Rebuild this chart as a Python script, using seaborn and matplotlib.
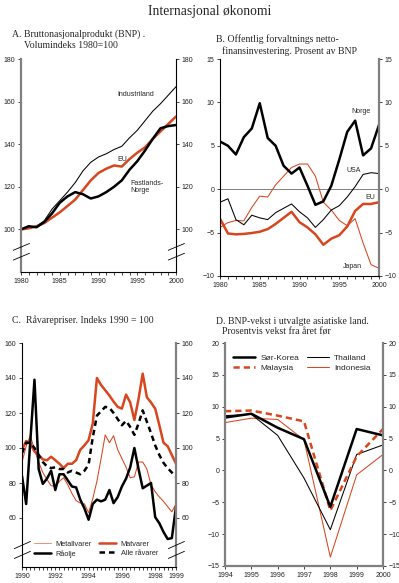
import matplotlib
matplotlib.use("Agg")
import matplotlib.pyplot as plt
import seaborn as sns

# ---------------- data ----------------
years_a = list(range(1980, 2001))
industriland = [100, 101, 101.5, 104, 109.5, 113.5, 117.5, 122, 127.5, 131.5, 134,
                135.5, 137.5, 139, 143, 146.5, 151, 155.5, 159, 163, 167]
eu_a = [100, 100.5, 101.5, 103, 105.5, 108, 111, 114, 118.5, 123, 126.5,
        128.5, 130, 129.5, 133, 136, 138.5, 142.5, 146, 149.5, 153]
fastlandsnorge = [100, 101.5, 101, 103.5, 107.5, 112.5, 115.5, 117.5, 116.5, 114.5, 115.5,
                  117.5, 120, 123, 128, 132, 137, 142.5, 147.5, 148.5, 149]

years_b = list(range(1980, 2001))
norge_b = [5.5, 5.0, 4.0, 6.0, 7.0, 9.9, 5.9, 5.0, 2.7, 1.8, 2.5,
           0.4, -1.8, -1.4, 0.4, 3.4, 6.6, 7.9, 3.9, 4.7, 7.4]
usa_b = [-1.5, -1.1, -3.5, -4.1, -3.0, -3.3, -3.5, -2.7, -2.2, -1.7, -2.6,
         -3.3, -4.4, -3.5, -2.4, -1.9, -0.9, 0.3, 1.7, 1.9, 1.8]
eu_b = [-3.4, -5.1, -5.2, -5.15, -5.05, -4.9, -4.6, -4.0, -3.3, -2.6, -3.8,
        -4.4, -5.2, -6.4, -5.7, -5.3, -4.3, -2.5, -1.7, -1.7, -1.5]
japan_b = [-4.4, -3.85, -3.6, -3.65, -2.1, -0.8, -0.9, 0.5, 1.5, 2.5, 2.9,
           2.9, 1.5, -1.5, -2.4, -3.6, -4.2, -3.4, -6.2, -8.7, -9.1]

# quarterly 1990Q1 .. 1999Q2
quarters_c = [1990 + q / 4 for q in range(38)]
metallvarer = [92, 101, 107, 99, 92, 86, 82, 78.5, 78, 81, 83, 79, 74, 70, 68.5, 68, 63, 71, 81,
               94, 107.5, 103, 107, 99, 94, 89, 83, 83.5, 92, 92, 88, 79, 75, 72, 69.5, 66.5, 63.5, 68]
matvarer = [99, 104, 102.5, 98, 96, 93.5, 93, 95, 93, 91, 88.5, 91, 91, 93, 99, 101.5, 104.5, 114, 140,
            136, 133, 130, 126.5, 123.5, 122.5, 130.5, 126, 116, 128, 142.5, 129, 126, 122.5, 113, 103, 101, 96, 91]
raolje = [84, 68, 104, 139, 88, 79.5, 82.5, 87, 76, 85, 85, 81.5, 78, 77.5, 70.5, 65.5, 59, 68, 70.5,
          69.5, 70.5, 76, 68.5, 72, 78, 82.5, 89, 100, 88, 77, 78.5, 80, 60.5, 57, 52, 48, 48.5, 66.5]
alle_ravarer = [97, 103, 103, 100, 96, 92, 89.5, 88.5, 89, 88, 88, 86, 87, 86, 85, 87, 90.5, 106, 118.5,
                121, 123.5, 123, 120, 116.5, 113, 115.5, 112, 107.5, 114, 121.5, 115, 108.5, 101.5, 96, 91.5, 88.5, 86, 83.5]
c_tick_pos = [1990, 1992, 1994, 1996, 1998, 1999.25]
c_tick_labels = ["1990", "1992", "1994", "1996", "1998", "1999"]

years_d = list(range(1994, 2001))
sor_korea = [8.3, 8.9, 6.7, 4.9, -5.7, 6.5, 5.5]
thailand = [8.6, 8.8, 5.5, -1.2, -9.3, 2.5, 4.0]
malaysia = [9.3, 9.4, 8.6, 7.7, -6.3, 2.2, 6.5]
indonesia = [7.5, 8.2, 8.0, 4.8, -13.6, -0.7, 2.5]

# ---------------- style ----------------
sns.set_style("ticks")
plt.rcParams['font.family'] = ['Liberation Sans', 'DejaVu Sans']
SERIF = ['Liberation Serif', 'DejaVu Serif']
ORANGE = '#D8461E'
GRAY = '#808080'
THICK = 1.8
THIN = 0.75

W, H = 399, 583
fig = plt.figure(figsize=(W / 100, H / 100), dpi=100)


def add_ax(l, r, t, b):
    return fig.add_axes([l / W, 1 - b / H, (r - l) / W, (b - t) / H])


def style(ax, left_gray=False, right_gray=False, bottom_gray=False):
    ax.spines['top'].set_visible(False)
    for side, g in (('left', left_gray), ('right', right_gray), ('bottom', bottom_gray)):
        sp = ax.spines[side]
        sp.set_visible(True)
        if g:
            sp.set_color(GRAY)
            sp.set_linewidth(1.6)
        else:
            sp.set_color('black')
            sp.set_linewidth(0.8)
    ax.tick_params(axis='y', which='both', left=True, right=True, labelleft=True,
                   labelright=True, direction='out', length=2.5, width=0.6,
                   labelsize=5, pad=1.5, colors='#222222')
    ax.tick_params(axis='x', which='both', direction='out', length=2.5, width=0.6,
                   labelsize=5, pad=2, colors='#222222')
    ax.set_xlabel('')
    ax.set_ylabel('')
    ax.set_facecolor('white')


def breaks(ax, ys):
    for xa in (0, 1):
        for ya in ys:
            ax.plot([xa - 0.05, xa + 0.055], [ya - 0.016, ya + 0.016], transform=ax.transAxes,
                    color='black', lw=0.6, clip_on=False, zorder=5)


# ---------------- A ----------------
axA = add_ax(21, 176, 59, 272)
sns.lineplot(x=years_a, y=industriland, ax=axA, color='black', lw=THIN)
sns.lineplot(x=years_a, y=eu_a, ax=axA, color=ORANGE, lw=THICK)
sns.lineplot(x=years_a, y=fastlandsnorge, ax=axA, color='black', lw=THICK)
axA.set_xlim(1980, 2000)
axA.set_ylim(80, 180)
axA.set_yticks([100, 120, 140, 160, 180])
axA.set_xticks([1980, 1985, 1990, 1995, 2000])
axA.set_xticks(years_a, minor=True)
style(axA, left_gray=True)
breaks(axA, [0.118, 0.072])
axA.text(1992.4, 163.5, 'Industriland', fontsize=5, va='center', ha='left')
axA.text(1992.4, 133, 'EU', fontsize=5, va='center', ha='left')
axA.text(1994.1, 119.8, 'Fastlands-\nNorge', fontsize=5, va='center', ha='left', linespacing=1.1)

# ---------------- B ----------------
axB = add_ax(220, 379, 59, 276)
axB.axhline(0, color=GRAY, lw=0.7, zorder=0)
sns.lineplot(x=years_b, y=japan_b, ax=axB, color=ORANGE, lw=THIN)
sns.lineplot(x=years_b, y=usa_b, ax=axB, color='black', lw=THIN)
sns.lineplot(x=years_b, y=eu_b, ax=axB, color=ORANGE, lw=THICK)
sns.lineplot(x=years_b, y=norge_b, ax=axB, color='black', lw=THICK)
axB.set_xlim(1980, 2000)
axB.set_ylim(-10, 15)
axB.set_yticks([-10, -5, 0, 5, 10, 15])
axB.set_xticks([1980, 1985, 1990, 1995, 2000])
axB.set_xticks(years_b, minor=True)
style(axB, right_gray=True)
axB.text(1996.56, 8.9, 'Norge', fontsize=5, va='center', ha='left')
axB.text(1995.94, 2.1, 'USA', fontsize=5, va='center', ha='left')
axB.text(1998.3, -1.0, 'EU', fontsize=5, va='center', ha='left')
axB.text(1995.5, -8.9, 'Japan', fontsize=5, va='center', ha='left')

# ---------------- C ----------------
axC = add_ax(22, 176, 343, 567)
sns.lineplot(x=quarters_c, y=metallvarer, ax=axC, color=ORANGE, lw=THIN, label='Metallvarer')
sns.lineplot(x=quarters_c, y=matvarer, ax=axC, color=ORANGE, lw=THICK, label='Matvarer')
sns.lineplot(x=quarters_c, y=raolje, ax=axC, color='black', lw=THICK, label='Råolje')
sns.lineplot(x=quarters_c, y=alle_ravarer, ax=axC, color='black', lw=THICK,
             linestyle=(0, (2.2, 1.6)), label='Alle råvarer')
axC.set_xlim(1990, 1999.25)
axC.set_ylim(32, 160)
axC.set_yticks([60, 80, 100, 120, 140, 160])
axC.set_xticks(c_tick_pos)
axC.set_xticklabels(c_tick_labels)
axC.set_xticks(quarters_c, minor=True)
style(axC, right_gray=True)
breaks(axC, [0.098, 0.054])
hc, lc = axC.get_legend_handles_labels()
orderc = [lc.index('Metallvarer'), lc.index('Råolje'), lc.index('Matvarer'), lc.index('Alle råvarer')]
legC = axC.legend([hc[i] for i in orderc], [lc[i] for i in orderc], loc='center',
                  bbox_to_anchor=(0.48, 0.08), ncol=2, frameon=False,
                  fontsize=5.3, handlelength=2.3, handletextpad=0.6, columnspacing=1.1,
                  labelspacing=0.3, borderpad=0.1)
legC.get_lines()[0].set_color('#E8957E')

# ---------------- D ----------------
axD = add_ax(225, 383, 343, 566)
sns.lineplot(x=years_d, y=indonesia, ax=axD, color=ORANGE, lw=THIN, label='Indonesia')
sns.lineplot(x=years_d, y=thailand, ax=axD, color='black', lw=THIN, label='Thailand')
sns.lineplot(x=years_d, y=malaysia, ax=axD, color=ORANGE, lw=THICK,
             linestyle=(0, (2.5, 1.6)), label='Malaysia')
sns.lineplot(x=years_d, y=sor_korea, ax=axD, color='black', lw=THICK, label='Sør-Korea')
axD.set_xlim(1994, 2000)
axD.set_ylim(-15, 20)
axD.set_yticks([-15, -10, -5, 0, 5, 10, 15, 20])
axD.set_xticks(years_d)
style(axD, left_gray=True, right_gray=True, bottom_gray=True)
h, l = axD.get_legend_handles_labels()
order = [l.index('Sør-Korea'), l.index('Malaysia'), l.index('Thailand'), l.index('Indonesia')]
axD.legend([h[i] for i in order], [l[i] for i in order], loc='center',
           bbox_to_anchor=(0.487, 0.91), ncol=2, frameon=False, fontsize=6,
           handlelength=2.6, handletextpad=0.6, columnspacing=1.0, labelspacing=0.3,
           borderpad=0.1)

# ---------------- titles ----------------
def ftext(x, y, s, size, **kw):
    fig.text(x / W, 1 - y / H, s, fontsize=size, family=SERIF, va='center', **kw)

ftext(209.5, 11, 'Internasjonal økonomi', 9.8, ha='center')
ftext(11.7, 34, 'A. Bruttonasjonalprodukt (BNP) .', 7, ha='left')
ftext(24, 46, 'Volumindeks 1980=100', 7, ha='left')
ftext(215.7, 39.3, 'B. Offentlig forvaltnings netto-', 7, ha='left')
ftext(222.3, 50.7, 'finansinvestering. Prosent av BNP', 7, ha='left')
ftext(11.7, 320, 'C.  Råvarepriser. Indeks 1990 = 100', 7, ha='left')
ftext(215.7, 321.7, 'D. BNP-vekst i utvalgte asiatiske land.', 7, ha='left')
ftext(222.3, 332.3, 'Prosentvis vekst fra året før', 7, ha='left')

fig.savefig('out.png', dpi=100, facecolor='white')
